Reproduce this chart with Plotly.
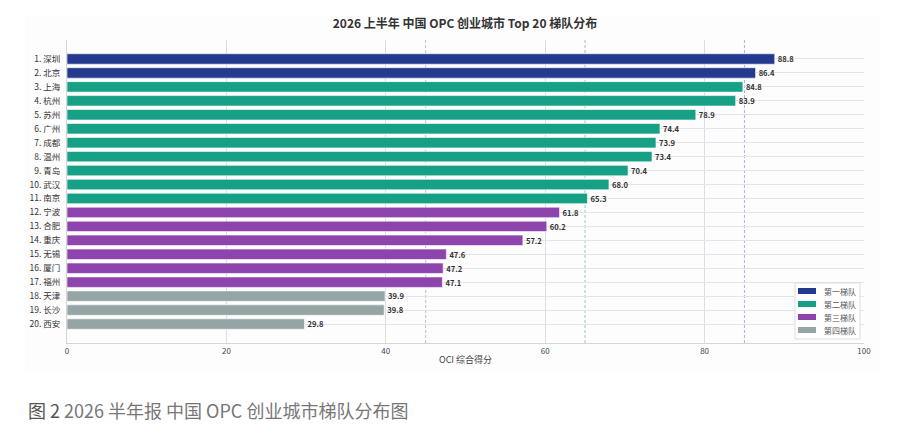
import plotly.graph_objects as go

# City tiers, OPC 2026 H1
cities = ["深圳", "北京", "上海", "杭州", "苏州", "广州", "成都", "温州", "青岛", "武汉",
          "南京", "宁波", "合肥", "重庆", "无锡", "厦门", "福州", "天津", "长沙", "西安"]
scores = [88.8, 86.4, 84.8, 83.9, 78.9, 74.4, 73.9, 73.4, 70.4, 68.0,
          65.3, 61.8, 60.2, 57.2, 47.6, 47.2, 47.1, 39.9, 39.8, 29.8]
tiers = [1, 1, 2, 2, 2, 2, 2, 2, 2, 2, 2, 3, 3, 3, 3, 3, 3, 4, 4, 4]
tier_names = ["第一梯队", "第二梯队", "第三梯队", "第四梯队"]
tier_colors = ["#233a8f", "#16a085", "#8e44ad", "#95a5a6"]
tier_cuts = [85, 65, 45]
cut_colors = ["rgba(110,110,220,0.55)", "rgba(22,160,133,0.5)", "rgba(142,68,173,0.4)"]

labels = [f"{i + 1}. {c}" for i, c in enumerate(cities)]
font = "Noto Sans CJK SC"

# plot area in screen pixels; the page body adds an 8px margin
OFF = 8
L, R, T, B = 67, 864, 40, 343
def px_x(p):
    return (p - L) / (R - L)
def px_y(p):
    return (B - p) / (B - T)

fig = go.Figure()

# light panel behind the chart
fig.add_shape(type="rect", xref="paper", yref="paper", x0=px_x(25), x1=px_x(880), y0=px_y(372), y1=px_y(15),
              fillcolor="#fdfdfd", line=dict(width=0), layer="below")

for t in range(4):
    idx = [i for i in range(len(cities)) if tiers[i] == t + 1]
    fig.add_trace(go.Bar(
        x=[scores[i] for i in idx],
        y=idx,
        orientation="h",
        name=tier_names[t],
        marker=dict(color=tier_colors[t], line=dict(color="white", width=0.6)),
        width=0.75,
        text=[f"{scores[i]:.1f}" for i in idx],
        textposition="outside",
        textfont=dict(size=8, color="#333333", family=font, weight="bold"),
        cliponaxis=False,
        hovertemplate="%{x}<extra></extra>",
    ))

# tier threshold lines
for v, col in zip(tier_cuts, cut_colors):
    fig.add_shape(type="line", x0=v, x1=v, y0=0, y1=1, xref="x", yref="paper",
                  line=dict(color=col, width=1, dash="3px,2px"), layer="below")

# legend box, drawn by hand so the swatches are wide and the rows tight
fig.add_shape(type="rect", xref="paper", yref="paper", x0=px_x(795), x1=px_x(860), y0=px_y(339), y1=px_y(283),
              fillcolor="white", line=dict(color="#dddddd", width=1))
for t in range(4):
    cy = 291 + t * 13
    fig.add_shape(type="rect", xref="paper", yref="paper", x0=px_x(798), x1=px_x(816),
                  y0=px_y(cy + 3), y1=px_y(cy - 3), fillcolor=tier_colors[t], line=dict(width=0))
    fig.add_annotation(text=tier_names[t], xref="paper", yref="paper", x=px_x(822), y=px_y(cy),
                       xanchor="left", yanchor="middle", showarrow=False,
                       font=dict(size=8, color="#555555"))

fig.update_layout(
    width=900, height=438,
    margin=dict(l=L - OFF, r=900 - R + OFF, t=T - OFF, b=438 - B + OFF),
    paper_bgcolor="white",
    plot_bgcolor="rgba(0,0,0,0)",
    font=dict(family=font, color="#333333", size=9),
    title=dict(text="<b>2026 上半年 中国 OPC 创业城市 Top 20 梯队分布</b>",
               x=(465 - OFF) / 900, xanchor="center", y=1 - (24 - OFF) / 438, yanchor="middle",
               font=dict(size=12, color="#333333"), automargin=False),
    bargap=0.25,
    showlegend=False,
)

fig.update_xaxes(range=[0, 100], tickvals=[0, 20, 40, 60, 80, 100],
                 showgrid=True, gridcolor="#dcdce4", gridwidth=1,
                 zeroline=False, showline=True, linecolor="#d5d5d5",
                 ticks="", tickfont=dict(size=8, color="#444444"), automargin=False,
                 title=dict(text="OCI 综合得分", font=dict(size=9, color="#444444"), standoff=2))

fig.update_yaxes(range=[20.36, -1.36], tickvals=list(range(20)), ticktext=labels,
                 showgrid=True, gridcolor="#e4e4ea", gridwidth=1,
                 zeroline=False, showline=True, linecolor="#d5d5d5",
                 ticks="", ticklabelstandoff=4, automargin=False,
                 tickfont=dict(size=8.5, color="#333333"))

fig.add_annotation(text="<span style='color:#555555'>图 2</span> 2026 半年报 中国 OPC 创业城市梯队分布图",
                   xref="paper", yref="paper", x=px_x(26), y=px_y(410),
                   xanchor="left", yanchor="middle", showarrow=False,
                   font=dict(size=18, color="#777777", family=font))

fig.write_html("out.html")
